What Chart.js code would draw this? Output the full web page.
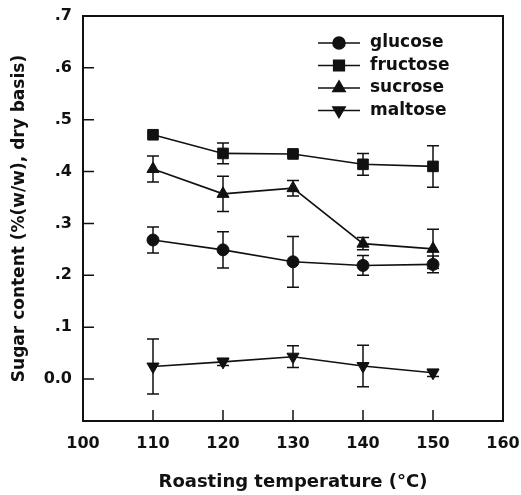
<!DOCTYPE html>
<html>
<head>
<meta charset="utf-8">
<script src="https://cdn.jsdelivr.net/npm/chart.js@4.4.0/dist/chart.umd.min.js"></script>
<style>
    html, body { margin: 0; padding: 0; background: #fff; }
</style>
</head>
<body>
<canvas id="sugarChart" width="521" height="495"></canvas>
<script>
// --- Data ---
const temps = [110, 120, 130, 140, 150];
const seriesNames = ["glucose", "fructose", "sucrose", "maltose"];

const glucose = [0.268, 0.249, 0.226, 0.219, 0.221];
const glucoseErr = [0.025, 0.035, 0.049, 0.019, 0.016];

const fructose = [0.471, 0.435, 0.434, 0.414, 0.410];
const fructoseErr = [0, 0.020, 0.004, 0.021, 0.040];

const sucrose = [0.405, 0.357, 0.368, 0.261, 0.251];
const sucroseErr = [0.025, 0.034, 0.015, 0.012, 0.038];

const maltose = [0.024, 0.033, 0.043, 0.025, 0.012];
const maltoseErr = [0.053, 0.007, 0.021, 0.040, 0.007];

const xTicks = [100, 110, 120, 130, 140, 150, 160];
const xInnerTicks = [110, 120, 130, 140, 150];
const yTicks = [0, 0.1, 0.2, 0.3, 0.4, 0.5, 0.6, 0.7];

const INK = "#111";
const FONT = "'DejaVu Sans', 'Liberation Sans', Arial, sans-serif";

function toPoints(vals) {
    return vals.map((v, i) => ({ x: temps[i], y: v }));
}

function makeSet(label, vals, errs, style, radius, rotation) {
    return {
        label: label,
        data: toPoints(vals),
        errors: errs,
        borderColor: INK,
        backgroundColor: INK,
        borderWidth: 1.6,
        pointStyle: style,
        pointRotation: rotation || 0,
        pointRadius: radius,
        pointBorderWidth: 1,
        tension: 0
    };
}

// frame, inward ticks, error bars and the inset legend
const decorPlugin = {
    id: "decor",
    beforeDatasetsDraw(chart) {
        const { ctx, scales: { x, y } } = chart;
        ctx.save();
        ctx.strokeStyle = INK;
        ctx.lineWidth = 1.5;
        chart.data.datasets.forEach((ds) => {
            ds.data.forEach((p, i) => {
                const e = ds.errors[i];
                if (!e) return;
                const px = x.getPixelForValue(p.x);
                const top = y.getPixelForValue(p.y + e);
                const bot = y.getPixelForValue(p.y - e);
                ctx.beginPath();
                ctx.moveTo(px, top); ctx.lineTo(px, bot);
                ctx.moveTo(px - 6, top); ctx.lineTo(px + 6, top);
                ctx.moveTo(px - 6, bot); ctx.lineTo(px + 6, bot);
                ctx.stroke();
            });
        });
        ctx.restore();
    },
    afterDraw(chart) {
        const { ctx, chartArea: a, scales: { x, y } } = chart;
        ctx.save();
        ctx.strokeStyle = INK;
        ctx.lineWidth = 2;
        ctx.strokeRect(a.left, a.top, a.right - a.left, a.bottom - a.top);

        // inward tick marks
        ctx.lineWidth = 1.5;
        ctx.beginPath();
        xInnerTicks.forEach((v) => {
            const px = x.getPixelForValue(v);
            ctx.moveTo(px, a.bottom);
            ctx.lineTo(px, a.bottom - 11);
        });
        yTicks.forEach((v) => {
            const py = y.getPixelForValue(v);
            ctx.moveTo(a.left, py);
            ctx.lineTo(a.left + 11, py);
        });
        ctx.stroke();

        // legend inside the plot
        const lx0 = a.right - 185, lx1 = a.right - 143, tx = a.right - 133;
        ctx.font = "bold 17px " + FONT;
        ctx.textBaseline = "middle";
        ctx.fillStyle = INK;
        chart.data.datasets.forEach((ds, i) => {
            const ly = a.top + 27 + i * 22.5;
            ctx.lineWidth = 1.6;
            ctx.beginPath();
            ctx.moveTo(lx0, ly);
            ctx.lineTo(lx1, ly);
            ctx.stroke();
            Chart.helpers.drawPoint(ctx, {
                pointStyle: ds.pointStyle,
                rotation: ds.pointRotation,
                radius: ds.pointRadius,
                borderWidth: 1
            }, (lx0 + lx1) / 2, ly);
            ctx.fillText(ds.label, tx, ly);
        });
        ctx.restore();
    }
};

new Chart(document.getElementById("sugarChart"), {
    type: "line",
    data: {
        datasets: [
            makeSet(seriesNames[0], glucose, glucoseErr, "circle", 6),
            makeSet(seriesNames[1], fructose, fructoseErr, "rect", 7.5),
            makeSet(seriesNames[2], sucrose, sucroseErr, "triangle", 7),
            makeSet(seriesNames[3], maltose, maltoseErr, "triangle", 7, 180)
        ]
    },
    options: {
        responsive: false,
        animation: false,
        layout: { padding: { top: 16, right: 18, left: 0, bottom: 0 } },
        plugins: {
            legend: { display: false },
            tooltip: { enabled: false }
        },
        scales: {
            x: {
                type: "linear",
                min: 100,
                max: 160,
                grid: { display: false, drawTicks: false },
                border: { display: false },
                afterBuildTicks: (s) => { s.ticks = xTicks.map((v) => ({ value: v })); },
                afterFit: (s) => {
                    s.height = 74;
                    s.paddingLeft = 0;
                    s.paddingRight = 0;
                },
                ticks: {
                    color: INK,
                    padding: 13,
                    maxRotation: 0,
                    font: { family: FONT, size: 16, weight: "bold" }
                },
                title: {
                    display: true,
                    text: "Roasting temperature (°C)",
                    color: INK,
                    padding: { top: 4, bottom: 2 },
                    font: { family: FONT, size: 18, weight: "bold" }
                }
            },
            y: {
                min: -0.081,
                max: 0.7,
                grid: { display: false, drawTicks: false },
                border: { display: false },
                afterBuildTicks: (s) => { s.ticks = yTicks.map((v) => ({ value: v })); },
                afterFit: (s) => {
                    s.width = 83;
                    s.paddingTop = 0;
                    s.paddingBottom = 0;
                },
                ticks: {
                    color: INK,
                    padding: 11,
                    font: { family: FONT, size: 16, weight: "bold" },
                    callback: (v) => (Math.abs(v) < 1e-9 ? "0.0" : "." + Math.round(v * 10))
                },
                title: {
                    display: true,
                    text: "Sugar content (%(w/w), dry basis)",
                    color: INK,
                    padding: { top: 9, bottom: 0 },
                    font: { family: FONT, size: 17, weight: "bold" }
                }
            }
        }
    },
    plugins: [decorPlugin]
});
</script>
</body>
</html>
